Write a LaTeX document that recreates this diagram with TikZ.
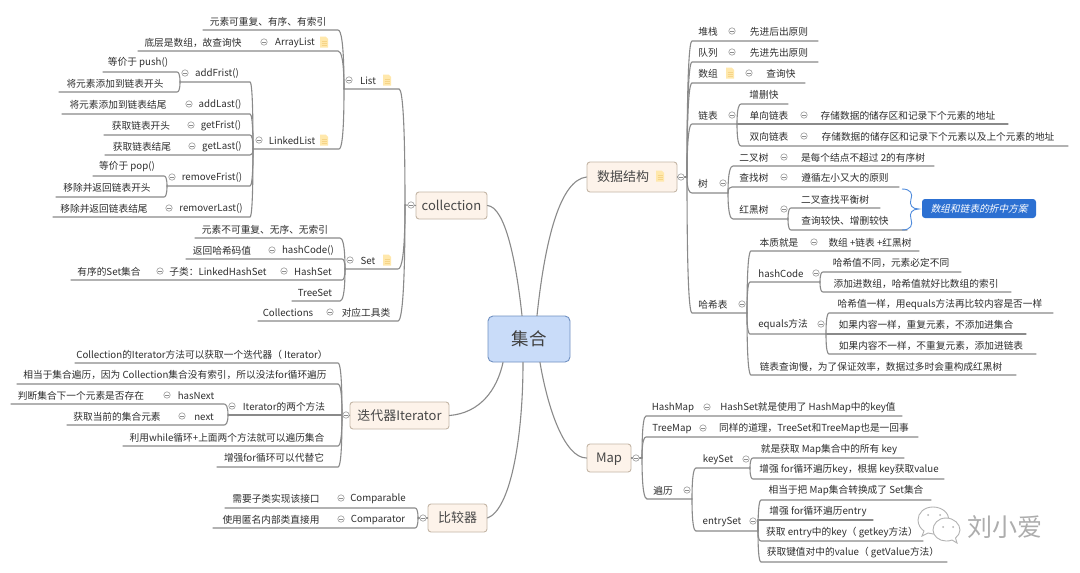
\documentclass[tikz,border=0pt]{standalone}
\usepackage{fontspec}
\setmainfont{Noto Sans CJK SC}
\newfontfamily\slfont[FakeSlant=0.25]{Noto Sans CJK SC}
\usetikzlibrary{calc}
\definecolor{linec}{HTML}{8A8A8A}
\definecolor{txtc}{HTML}{2E2E2E}
\definecolor{boxf}{HTML}{FDF3EA}
\definecolor{boxd}{HTML}{C4B6A6}
\definecolor{rootf}{HTML}{C9DCF9}
\definecolor{rootd}{HTML}{7191C2}
\definecolor{capf}{HTML}{2C70D2}
\definecolor{brc}{HTML}{4F8BDC}
\definecolor{notef}{HTML}{FFE8AC}
\definecolor{notel}{HTML}{F6D487}
\tikzset{
 lbl/.style={inner sep=0pt,text=txtc,font=\fontsize{9.7}{11}\selectfont},
 conn/.style={draw=linec,line width=1.1pt,line cap=round},
 topbox/.style={draw=boxd,fill=boxf,rounded corners=3pt,line width=0.9pt,inner sep=0pt,text=black!72,text height=11pt,text depth=2pt,font=\fontsize{13}{15}\selectfont},
 rootbox/.style={draw=rootd,fill=rootf,rounded corners=5pt,line width=0.9pt,inner sep=0pt,text=black!75,font=\fontsize{17.5}{20}\selectfont},
 cmk/.style={draw=black!35,fill=white,line width=0.7pt},
}
\newcommand\tx[4]{\node[lbl] (#1) at (#2,#3+0.8) {#4};}
\newcommand\lnk[5]{%
 \coordinate (#2-n) at (#3,#5);
 \coordinate (#2-f) at (#4,#5);
 \draw[conn] (#1) .. controls ($(#1)!0.8!(#1|-#2-n)$) and ($(#1|-#2-n)!0.5!(#2-n)$) .. (#2-n) -- (#2-f);}
\newcommand\cm[2]{\draw[cmk] (#1,#2) circle (3.2);\draw[draw=black!45,line width=0.6pt] (#1-1.6,#2) -- (#1+1.6,#2);}
\newcommand\nt[2]{%
 \fill[notef] (#1-4,#2-5.5) -- (#1+1.5,#2-5.5) -- (#1+4,#2-3) -- (#1+4,#2+5.5) -- (#1-4,#2+5.5) -- cycle;
 \draw[notel,line width=0.5pt] (#1-2.5,#2-1) -- (#1+2.5,#2-1) (#1-2.5,#2+1.2) -- (#1+2.5,#2+1.2) (#1-2.5,#2+3.4) -- (#1+2.5,#2+3.4);}
\begin{document}
\begin{tikzpicture}[x=1pt,y=-1pt]
\useasboundingbox (0,0) rectangle (1080,573);
\fill[white] (0,0) rectangle (1080,573);

% boxes
\node[rootbox,minimum width=82pt,minimum height=46pt] (root) at (529,339) {集合};
\node[topbox,minimum width=71pt,minimum height=27pt] (coll) at (451.5,205.5) {collection};
\node[topbox,minimum width=99pt,minimum height=27pt] (iter) at (399.5,415.5) {迭代器Iterator};
\node[topbox,minimum width=59pt,minimum height=28pt] (comp) at (457.5,518) {比较器};
\node[topbox,minimum width=90pt,minimum height=30pt] (ds) at (632,177) {数据结构\kern18pt\relax};
\node[topbox,minimum width=44pt,minimum height=28pt] (map) at (609,458) {Map};

% main curves
\draw[conn] (coll.east) .. controls (505,207) and (516,260) .. ($(root.north)+(-7,0)$);
\draw[conn] (ds.west) .. controls (560,180) and (545,240) .. ($(root.north)+(8,0)$);
\draw[conn] (iter.east) .. controls (480,413) and (497,390) .. ($(root.south)+(-26,0)$);
\draw[conn] (comp.east) .. controls (510,510) and (523,440) .. ($(root.south)+(-6,0)$);
\draw[conn] (map.west) .. controls (565,458) and (548,410) .. ($(root.south)+(11,0)$);

% buses
\coordinate (cb) at (405,205);
\coordinate (ib) at (342,415);
\coordinate (kb) at (418,518);
\coordinate (db) at (687,177);
\coordinate (mb) at (642,458);
\draw[conn] (coll.west) -- (cb);
\draw[conn] (iter.west) -- (ib);
\draw[conn] (comp.west) -- (kb);
\draw[conn] (ds.east) -- (db);
\draw[conn] (map.east) -- (mb);

% ===== collection
\lnk{cb}{list}{399}{344}{89}
\lnk{cb}{set}{398}{345}{269}
\lnk{cb}{colls}{398}{258}{321}
\lnk{list-f}{a1}{338}{203}{30}
\lnk{list-f}{alist}{338}{138}{51}
\lnk{list-f}{llist}{339}{253}{149}
\lnk{llist-f}{addf}{250}{180}{82}
\lnk{addf-f}{addf1}{177}{103}{72}
\lnk{addf-f}{addf2}{177}{59}{92}
\lnk{llist-f}{addl}{250}{62}{114}
\lnk{llist-f}{getf}{250}{104}{135}
\lnk{llist-f}{getl}{250}{105}{155}
\lnk{llist-f}{remf}{250}{167}{186}
\lnk{remf-f}{remf1}{164}{93}{176}
\lnk{remf-f}{remf2}{164}{56}{197}
\lnk{llist-f}{reml}{250}{53}{217}
\lnk{set-f}{s1}{340}{195}{238}
\lnk{set-f}{s2}{342}{186}{259}
\lnk{set-f}{s3}{342}{71}{280}
\lnk{set-f}{s4}{340}{292}{301}

\tx{tlist}{368}{80}{List}
\tx{t1}{268}{21}{元素可重复、有序、有索引}
\tx{talist}{295}{42}{ArrayList}
\tx{talist1}{193}{42}{底层是数组，故查询快}
\tx{tllist}{292}{140}{LinkedList}
\tx{taddf}{217}{73}{addFrist()}
\tx{taddf1}{138}{62}{等价于 push()}
\tx{taddf2}{115}{83}{将元素添加到链表开头}
\tx{taddl}{220}{104}{addLast()}
\tx{taddl1}{118}{104}{将元素添加到链表结尾}
\tx{tgetf}{221}{125}{getFrist()}
\tx{tgetf1}{141}{125}{获取链表开头}
\tx{tgetl}{222}{146}{getLast()}
\tx{tgetl1}{142}{146}{获取链表结尾}
\tx{tremf}{212}{177}{removeFrist()}
\tx{tremf1}{127}{166}{等价于 pop()}
\tx{tremf2}{107}{187}{移除并返回链表开头}
\tx{treml}{211}{208}{removerLast()}
\tx{treml1}{104}{208}{移除并返回链表结尾}
\tx{tset}{368}{260}{Set}
\tx{ts1}{265}{229}{元素不可重复、无序、无索引}
\tx{ts2}{308}{250}{hashCode()}
\tx{ts2a}{222}{250}{返回哈希码值}
\tx{ts3}{313}{271}{HashSet}
\tx{ts3a}{218}{271}{子类：LinkedHashSet}
\tx{ts3b}{109}{271}{有序的Set集合}
\tx{ts4}{315}{292}{TreeSet}
\tx{tcolls}{288}{312}{Collections}
\tx{tcolls1}{366}{312}{对应工具类}

% ===== iterator
\lnk{ib}{i1}{338}{75}{363}
\lnk{ib}{i2}{338}{17}{384}
\lnk{ib}{i3}{338}{228}{415}
\lnk{i3-f}{i3a}{224}{11}{404}
\lnk{i3-f}{i3b}{224}{67}{425}
\lnk{ib}{i4}{338}{123}{446}
\lnk{ib}{i5}{338}{217}{467}
\tx{ti1}{202}{354}{Collection的Iterator方法可以获取一个迭代器（ Iterator）}
\tx{ti2}{175}{374}{相当于集合遍历，因为 Collection集合没有索引，所以没法for循环遍历}
\tx{ti3}{284}{406}{Iterator的两个方法}
\tx{ti3a}{196}{395}{hasNext}
\tx{ti3a1}{81}{395}{判断集合下一个元素是否存在}
\tx{ti3b}{204}{416}{next}
\tx{ti3b1}{117}{416}{获取当前的集合元素}
\tx{ti4}{227}{437}{利用while循环+上面两个方法就可以遍历集合}
\tx{ti5}{274}{457}{增强for循环可以代替它}

% ===== comparator
\lnk{kb}{k1}{415}{225}{508}
\lnk{kb}{k2}{415}{213}{528}
\tx{tk1}{378}{498}{Comparable}
\tx{tk1a}{276}{498}{需要子类实现该接口}
\tx{tk2}{378}{519}{Comparator}
\tx{tk2a}{271}{519}{使用匿名内部类直接用}

% ===== data structures
\lnk{db}{d1}{692}{818}{41}
\lnk{db}{d2}{692}{818}{62}
\lnk{db}{d3}{692}{805}{83}
\lnk{db}{d4}{692}{737}{124}
\lnk{db}{d5}{692}{728}{193}
\lnk{db}{d6}{692}{747}{313}
\lnk{d4-f}{d4a}{741}{788}{104}
\lnk{d4-f}{d4b}{737}{1008}{124}
\lnk{d4-f}{d4c}{741}{1068}{146}
\lnk{d5-f}{d5a}{733}{934}{166}
\lnk{d5-f}{d5b}{732}{899}{187}
\lnk{d5-f}{d5c}{733}{788}{219}
\lnk{d5c-f}{d5d}{791}{880}{208}
\lnk{d5c-f}{d5e}{791}{907}{230}
\lnk{d6-f}{h1}{751}{919}{251}
\lnk{d6-f}{h2}{750}{820}{282}
\lnk{d6-f}{h3}{750}{826}{334}
\lnk{d6-f}{h4}{751}{1016}{375}
\lnk{h2-f}{h2a}{823}{961}{272}
\lnk{h2-f}{h2b}{823}{1011}{292}
\lnk{h3-f}{h3a}{829}{1053}{313}
\lnk{h3-f}{h3b}{829}{1026}{334}
\lnk{h3-f}{h3c}{829}{1036}{354}

\tx{td1}{708}{31}{堆栈}
\tx{td1a}{779}{31}{先进后出原则}
\tx{td2}{708}{52}{队列}
\tx{td2a}{779}{52}{先进先出原则}
\tx{td3}{708}{73}{数组}
\tx{td3a}{781}{73}{查询快}
\tx{td4}{708}{115}{链表}
\tx{td4a}{764}{94}{增删快}
\tx{td4b}{769}{115}{单向链表}
\tx{td4b1}{908}{115}{存储数据的储存区和记录下个元素的地址}
\tx{td4c}{769}{136}{双向链表}
\tx{td4c1}{938}{136}{存储数据的储存区和记录下个元素以及上个元素的地址}
\tx{td5}{703}{183}{树}
\tx{td5a}{754}{157}{二叉树}
\tx{td5a1}{863}{157}{是每个结点不超过 2的有序树}
\tx{td5b}{754}{177}{查找树}
\tx{td5b1}{845}{177}{遵循左小又大的原则}
\tx{td5c}{754}{209}{红黑树}
\tx{td5d}{835}{199}{二叉查找平衡树}
\tx{td5e}{845}{220}{查询较快、增删较快}
\tx{td6}{713}{304}{哈希表}
\tx{th1}{779}{242}{本质就是}
\tx{th1a}{870}{242}{数组 +链表 +红黑树}
\tx{th2}{781}{273}{hashCode}
\tx{th2a}{891}{262}{哈希值不同，元素必定不同}
\tx{th2b}{916}{283}{添加进数组，哈希值就好比数组的索引}
\tx{th3}{783}{324}{equals方法}
\tx{th3a}{940}{304}{哈希值一样，用equals方法再比较内容是否一样}
\tx{th3b}{926}{324}{如果内容一样，重复元素，不添加进集合}
\tx{th3c}{931}{345}{如果内容不一样，不重复元素，添加进链表}
\tx{th4}{881}{366}{链表查询慢，为了保证效率，数据过多时会重构成红黑树}

% caption + brace
\node[fill=capf,rounded corners=3pt,inner sep=0pt,minimum width=114pt,minimum height=19pt,text=white,font=\slfont\fontsize{9.7}{11}\selectfont] (cap) at (979,208.5) {数组和链表的折中方案};
\coordinate (bt) at ($(cap.west)+(-3,0.5)$);
\draw[brc,line width=0.9pt] (902,189) .. controls (911,189) and (913,194) .. (911,199) .. controls (909,205) and (912,209) .. (bt) .. controls (912,209) and (909,213) .. (911,219) .. controls (913,225) and (911,230) .. (902,230);

% ===== map
\lnk{mb}{m1}{646}{902}{416}
\lnk{mb}{m2}{646}{918}{437}
\lnk{mb}{m3}{647}{692}{499}
\lnk{m3-f}{m3a}{696}{750}{468}
\lnk{m3-f}{m3b}{696}{758}{531}
\lnk{m3a-f}{ka}{753}{904}{458}
\lnk{m3a-f}{kb2}{753}{944}{479}
\lnk{m3b-f}{ea}{761}{931}{500}
\lnk{m3b-f}{eb}{758}{873}{520}
\lnk{m3b-f}{ec}{761}{923}{541}
\lnk{m3b-f}{ed}{761}{947}{562}
\tx{tm1}{673}{407}{HashMap}
\tx{tm1a}{808}{407}{HashSet就是使用了 HashMap中的key值}
\tx{tm2}{672}{428}{TreeMap}
\tx{tm2a}{814}{428}{同样的道理，TreeSet和TreeMap也是一回事}
\tx{tm3}{663}{490}{遍历}
\tx{tm4}{718}{459}{keySet}
\tx{tka}{829}{449}{就是获取 Map集合中的所有 key}
\tx{tkb}{849}{469}{增强 for循环遍历key，根据 key获取value}
\tx{tm5}{722}{521}{entrySet}
\tx{tea}{846}{490}{相当于把 Map集合转换成了 Set集合}
\tx{teb}{818}{511}{增强 for循环遍历entry}
\tx{tec}{842}{532}{获取 entry中的key（ getkey方法）}
\tx{ted}{853}{552}{获取键值对中的value（ getValue方法）}

% collapse circles
\cm{411}{205}\cm{349}{80}\cm{264}{42}\cm{259}{140}\cm{185}{73}\cm{189}{104}\cm{191}{125}\cm{192}{146}\cm{172}{177}\cm{169}{208}
\cm{350}{260}\cm{272}{250}\cm{284}{271}\cm{160}{271}\cm{330}{312}
\cm{346}{415}\cm{232}{406}\cm{167}{395}\cm{182}{416}
\cm{423}{518}\cm{341}{498}\cm{341}{519}
\cm{681}{177}\cm{732}{31}\cm{732}{52}\cm{749}{73}\cm{732}{115}\cm{804}{115}\cm{804}{136}
\cm{723}{183}\cm{784}{157}\cm{784}{177}\cm{784}{209}
\cm{742}{304}\cm{814}{242}\cm{816}{273}\cm{821}{324}
\cm{636}{458}\cm{707}{407}\cm{703}{428}\cm{687}{490}\cm{746}{459}\cm{753}{521}

% note icons
\nt{387}{80}\nt{324}{42}\nt{324}{140}\nt{387}{260}\nt{660}{176}\nt{730}{73}

% watermark
\draw[black!30,line width=0.9pt,fill=white] (933,507) .. controls (924,507) and (918,513) .. (918,520) .. controls (918,525) and (921,529) .. (924,531) -- (922,536) -- (928,533) .. controls (931,534) and (934,534) .. (937,534) .. controls (945,534) and (949,527) .. (949,520) .. controls (949,513) and (942,507) .. (933,507) -- cycle;
\draw[black!30,line width=0.9pt,fill=white] (946,518) .. controls (938,518) and (933,524) .. (933,530) .. controls (933,536) and (939,541) .. (946,541) .. controls (948,541) and (950,541) .. (952,540) -- (957,543) -- (955.5,538) .. controls (958,536) and (960,533) .. (960,530) .. controls (960,524) and (954,518) .. (946,518) -- cycle;
\fill[black!30] (928,515) circle (1) (940,515) circle (1) (943,527) circle (1) (953,527) circle (1);
\node[inner sep=0pt,text=black!32,font=\fontsize{25}{28}\selectfont] (wm) at (1005,527) {刘小爱};
\end{tikzpicture}
\end{document}
